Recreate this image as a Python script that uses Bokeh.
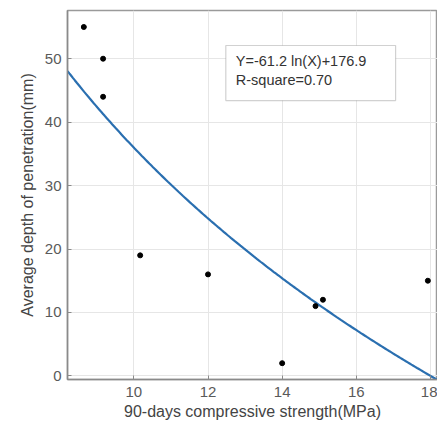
import numpy as np
from bokeh.plotting import figure
from bokeh.models import Range1d, BoxAnnotation, Label, FixedTicker
from bokeh.embed import file_html
from bokeh.resources import INLINE

# data
strength = [8.65, 9.17, 9.17, 10.17, 12.0, 14.0, 14.9, 15.1, 17.93]
depth = [55, 50, 44, 19, 16, 2, 11, 12, 15]
coef_a = -61.2
coef_b = 176.9
x_ticks = [10, 12, 14, 16, 18]
y_ticks = [0, 10, 20, 30, 40, 50]

FONT = "Liberation Sans"

p = figure(width=437, height=425, output_backend="svg", toolbar_location=None,
           x_range=Range1d(8.21, 18.19), y_range=Range1d(-0.57, 57.6),
           min_border_left=67, min_border_right=0, min_border_top=10, min_border_bottom=46)

p.outline_line_color = "#9a9a9a"
p.outline_line_width = 1.5
p.background_fill_color = "white"

for ax in (p.xaxis[0], p.yaxis[0]):
    ax.major_tick_in = 4
    ax.major_tick_out = 0
    ax.minor_tick_in = 0
    ax.minor_tick_out = 0
    ax.axis_line_color = "#8a8a8a"
    ax.axis_line_width = 1.5
    ax.major_tick_line_color = "#8a8a8a"
    ax.major_label_text_font = FONT
    ax.major_label_text_font_size = "15px"
    ax.major_label_text_color = "#5a5a5a"
    ax.axis_label_text_font = FONT
    ax.axis_label_text_font_size = "16px"
    ax.axis_label_text_font_style = "normal"
    ax.axis_label_text_color = "#444444"

p.xaxis.ticker = FixedTicker(ticks=x_ticks)
p.yaxis.ticker = FixedTicker(ticks=y_ticks)
p.xaxis.axis_label = "90-days compressive strength(MPa)"
p.yaxis.axis_label = "Average depth of penetration(mm)"
p.xaxis.major_label_standoff = 7
p.yaxis.major_label_standoff = 6
p.xaxis.axis_label_standoff = 3
p.yaxis.axis_label_standoff = 6

p.xgrid.ticker = FixedTicker(ticks=x_ticks)
p.ygrid.ticker = FixedTicker(ticks=y_ticks)
p.grid.grid_line_color = "#e6e6e6"
p.grid.grid_line_width = 1

xs = np.linspace(8.21, 18.19, 200)
ys = coef_a * np.log(xs) + coef_b
p.line(xs, ys, line_color="#2a6fb0", line_width=2.2)

p.scatter(strength, depth, size=5, color="black")

box = BoxAnnotation(left=12.48, right=17.06, bottom=43.4, top=52.08,
                    fill_color="white", fill_alpha=1.0,
                    line_color="#666666", line_width=1.2)
p.add_layout(box)
p.add_layout(Label(x=12.75, y=49.7, text="Y=-61.2 ln(X)+176.9",
                   text_font=FONT, text_font_size="14.5px", text_color="#333333",
                   text_baseline="middle"))
p.add_layout(Label(x=12.75, y=46.6, text="R-square=0.70",
                   text_font=FONT, text_font_size="14.5px", text_color="#333333",
                   text_baseline="middle"))

open("out.html", "w").write(file_html(p, INLINE))
